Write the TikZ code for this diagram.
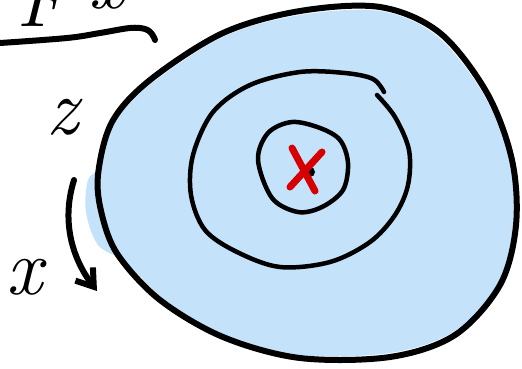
\documentclass[tikz,border=0pt]{standalone}
\usetikzlibrary{arrows.meta}
\definecolor{diskblue}{RGB}{196,226,250}
\definecolor{markred}{RGB}{214,0,0}
\tikzset{
  pen/.style={black,line width=6pt,line cap=round,line join=round},
  thinpen/.style={black,line width=4.5pt,line cap=round,line join=round},
  hand/.style={inner sep=0pt,font=\fontsize{80}{80}\selectfont\itshape}
}

\begin{document}
\begin{tikzpicture}[x=1pt,y=-1pt]
  \useasboundingbox (0,0) rectangle (522,368);
  % light blue disc
  \fill[diskblue] plot[smooth cycle,tension=0.55] coordinates {
    (101,165) (115,122) (152,83) (225,36) (300,15) (380,11) (437,36)
    (484,95) (509,160) (513,225) (497,285) (453,332) (390,353)
    (300,355) (220,336) (165,300) (125,262) (98,245) (86,212) (88,180)};
  % outer ring
  \draw[pen] plot[smooth cycle,tension=0.55] coordinates {
    (98,175) (112,122) (150,80) (223,33) (300,11) (380,7) (440,33)
    (487,93) (512,160) (516,225) (500,285) (455,335) (390,357)
    (300,358) (223,337) (160,300) (118,255) (102,215)};
  % middle ring, open near the top right
  \draw[thinpen] plot[smooth,tension=0.55] coordinates {
    (377,95) (395,117) (409,150) (408,185) (395,215) (370,242)
    (330,262) (280,267) (237,252) (205,230) (191,195) (193,155)
    (213,112) (250,85) (300,72) (345,73) (373,79) (384,92)};
  % inner ring
  \draw[thinpen] plot[smooth cycle,tension=0.55] coordinates {
    (258,160) (268,133) (292,122) (320,128) (340,140) (348,163)
    (343,190) (322,207) (298,212) (272,198)};
  % centre mark
  \fill (310,172) circle (5);
  \draw[markred,line width=7pt,line cap=round] (292,148) -- (315,191);
  \draw[markred,line width=7pt,line cap=round] (322,152) -- (290,187);
  % heading, cut off at the top
  \node[hand,anchor=base] (fhead) at (42,26) {F};
  \node[hand,anchor=base] (xhead) at (106,8) {x};
  \draw[pen] plot[smooth,tension=0.6] coordinates {
    (0,43) (67,38) (100,33) (130,28) (145,29) (152,34) (155,40)};
  % axis labels and direction
  \node[hand,anchor=base] (zlab) at (62,134) {z};
  \node[hand,anchor=base] (xlab) at (24,294) {x};
  \coordinate (arrS) at (74,180);
  \coordinate (arrE) at (97,291);
  \draw[pen,-{Straight Barb[length=16pt,width=22pt]}]
    (arrS) .. controls (60,225) and (75,262) .. (arrE);
\end{tikzpicture}
\end{document}
